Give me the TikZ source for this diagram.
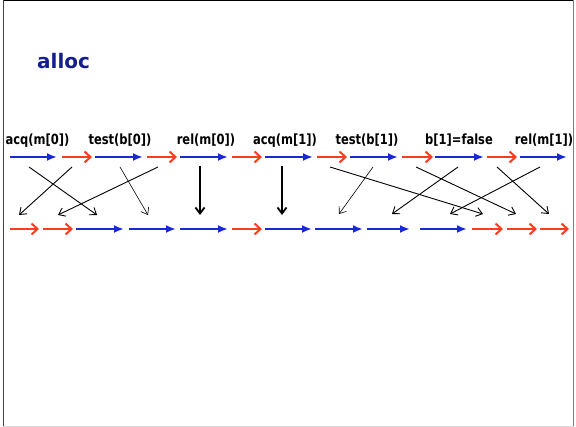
\documentclass[tikz,border=0pt]{standalone}
\usepackage{fontspec}
\setmainfont{DejaVu Sans}
\usetikzlibrary{arrows.meta}
\definecolor{myblue}{RGB}{25,40,215}
\definecolor{myred}{RGB}{255,60,30}
\definecolor{titleblue}{RGB}{20,30,140}
\tikzset{
  barrow/.style={myblue, line width=2pt, -{Latex[length=10pt,width=8pt]}},
  rarrow/.style={myred, line width=2pt, -{Straight Barb[length=6pt,width=11pt]}},
  karrow/.style={black, line width=0.9pt, -{Straight Barb[length=6pt,width=9pt]}},
  thinarrow/.style={karrow, line width=0.6pt},
  thickarrow/.style={karrow, line width=1.8pt},
  lbl/.style={font=\bfseries\fontsize{11.5}{13}\selectfont, anchor=base, inner sep=0pt, yscale=1.22, transform shape},
}
\begin{document}
\begin{tikzpicture}[x=1pt,y=-1pt]
\useasboundingbox (0,0) rectangle (576,427);
% frame
\draw[black, line width=1pt] (3,0.5) -- (574,0.5);
\draw[black!75, line width=1.5pt] (3.5,0) -- (3.5,427);
\draw[black!50, line width=1.5pt] (573.5,0) -- (573.5,427);
\draw[black!15, line width=1pt] (3,426.5) -- (574,426.5);
% title
\node[font=\bfseries\fontsize{20}{24}\selectfont, text=titleblue, anchor=base west, inner sep=0pt] (title) at (37,69) {alloc};
% labels
\node[lbl] (l1) at (37.5,145) {acq(m[0])};
\node[lbl] (l2) at (120,145) {test(b[0])};
\node[lbl] (l3) at (206,145) {rel(m[0])};
\node[lbl] (l4) at (285,145) {acq(m[1])};
\node[lbl] (l5) at (367,145) {test(b[1])};
\node[lbl] (l6) at (459,145) {b[1]=false};
\node[lbl] (l7) at (544,145) {rel(m[1])};
% top row
\foreach \i/\a/\b/\s in {1/10/57/barrow, 2/62/92/rarrow, 3/95/143/barrow, 4/147/177/rarrow, 5/180/228/barrow, 6/232/262/rarrow, 7/265/313/barrow, 8/317/347/rarrow, 9/350/398/barrow, 10/402/433/rarrow, 11/435/484/barrow, 12/487/517/rarrow, 13/520/567/barrow}{
  \coordinate (ts\i) at (\a,157);
  \coordinate (te\i) at (\b,157);
  \draw[\s] (ts\i) -- (te\i);
}
% bottom row
\foreach \i/\a/\b/\s in {1/10/39/rarrow, 2/43/73/rarrow, 3/76/124/barrow, 4/129/176/barrow, 5/180/228/barrow, 6/232/262/rarrow, 7/265/312/barrow, 8/315/363/barrow, 9/367/410/barrow, 10/420/467/barrow, 11/472/503/rarrow, 12/507/537/rarrow, 13/540/569/rarrow}{
  \coordinate (bs\i) at (\a,229);
  \coordinate (be\i) at (\b,229);
  \draw[\s] (bs\i) -- (be\i);
}
% crossing arrows
\foreach \n/\x/\y/\u/\v/\s in {a/29/167/97/215/karrow, b/72/167/19/215/karrow, c/120/167/148/215/thinarrow, d/158/167/58/215/karrow, e/200/166/200/215/thickarrow, f/282/166/282/215/thickarrow, g/330/167/483/214/karrow, h/373/167/339/214/thinarrow, i/416/167/516/214/karrow, j/458/167/392/214/karrow, k/497/167/549/214/karrow, l/540/167/450/214/karrow}{
  \coordinate (\n s) at (\x,\y);
  \coordinate (\n e) at (\u,\v);
  \draw[\s] (\n s) -- (\n e);
}
\end{tikzpicture}
\end{document}
